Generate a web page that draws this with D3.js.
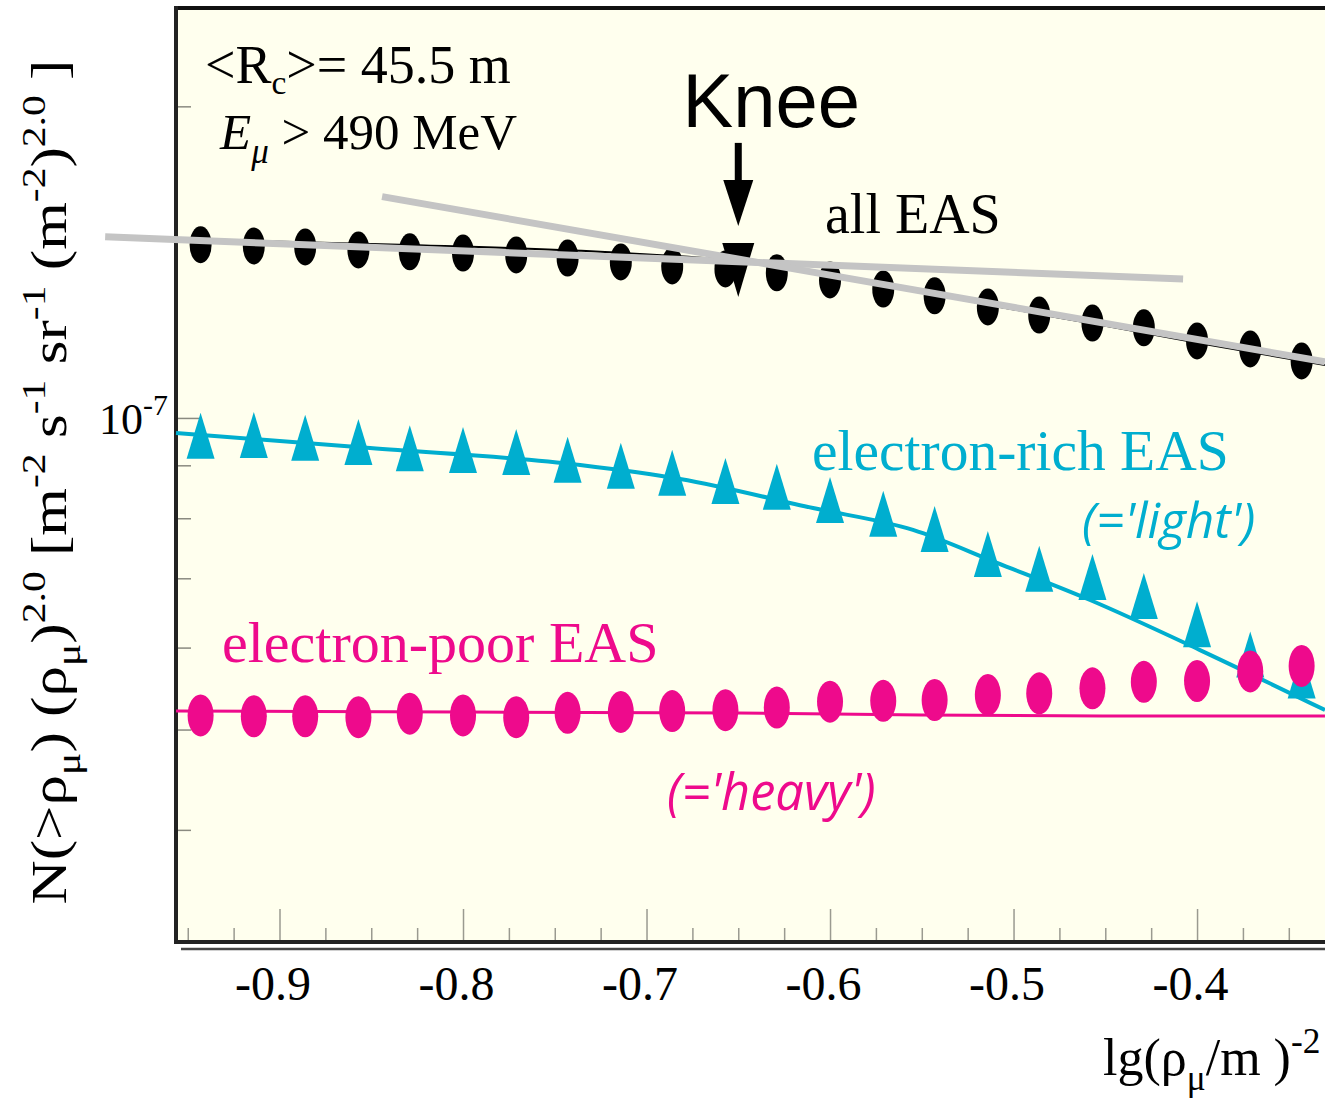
<!DOCTYPE html>
<html>
<head>
<meta charset="utf-8">
<script src="https://cdn.jsdelivr.net/npm/d3@7"></script>
<style>
  html, body { margin: 0; padding: 0; background: #ffffff; }
  svg { display: block; }
</style>
</head>
<body>
<svg id="chart" width="1325" height="1101"></svg>
<script>
// Muon density bins, lg(rho_mu / m^-2)
const lgRho = [-0.943, -0.914, -0.886, -0.857, -0.829, -0.800, -0.771, -0.743, -0.714, -0.686, -0.657,
               -0.629, -0.600, -0.571, -0.543, -0.514, -0.486, -0.457, -0.429, -0.400, -0.371, -0.343];

// N(>rho_mu) * rho_mu^2.0 for each shower class
const allEAS = [1.470e-7, 1.466e-7, 1.463e-7, 1.453e-7, 1.447e-7, 1.443e-7, 1.437e-7, 1.427e-7, 1.415e-7, 1.402e-7, 1.393e-7,
                1.381e-7, 1.359e-7, 1.332e-7, 1.312e-7, 1.280e-7, 1.257e-7, 1.235e-7, 1.222e-7, 1.187e-7, 1.166e-7, 1.135e-7];
const electronRich = [0.961e-7, 0.963e-7, 0.957e-7, 0.948e-7, 0.935e-7, 0.931e-7, 0.927e-7, 0.911e-7, 0.899e-7, 0.885e-7, 0.869e-7,
                      0.858e-7, 0.833e-7, 0.808e-7, 0.781e-7, 0.739e-7, 0.715e-7, 0.702e-7, 0.673e-7, 0.632e-7, 0.591e-7, 0.564e-7];
const electronPoor = [0.516e-7, 0.515e-7, 0.515e-7, 0.514e-7, 0.518e-7, 0.516e-7, 0.514e-7, 0.519e-7, 0.520e-7, 0.521e-7, 0.522e-7,
                      0.525e-7, 0.532e-7, 0.533e-7, 0.534e-7, 0.540e-7, 0.542e-7, 0.548e-7, 0.556e-7, 0.557e-7, 0.569e-7, 0.576e-7];

// Fitted spectra
const allFitX = [-0.9564, -0.8343, -0.7253, -0.6572, -0.6163, -0.5619, -0.5074, -0.4529, -0.3984, -0.3303];
const allFitY = [1.489e-7, 1.470e-7, 1.447e-7, 1.421e-7, 1.390e-7, 1.336e-7, 1.280e-7, 1.230e-7, 1.181e-7, 1.125e-7];
const lightFitX = [-0.9564, -0.8507, -0.7362, -0.6817, -0.6093, -0.5548, -0.5090, -0.4583, -0.3984, -0.3303];
const lightFitY = [0.9672e-7, 0.9354e-7, 0.9007e-7, 0.8730e-7, 0.8184e-7, 0.7795e-7, 0.7244e-7, 0.6670e-7, 0.5967e-7, 0.5222e-7];
const heavyFitX = [-0.9564, -0.80, -0.65, -0.55, -0.45, -0.3303];
const heavyFitY = [0.5210e-7, 0.5199e-7, 0.5187e-7, 0.5164e-7, 0.5153e-7, 0.5153e-7];

// Power-law slopes below and above the knee
const slopeBelowX = [-0.995, -0.4076];
const slopeBelowY = [1.496e-7, 1.362e-7];
const slopeAboveX = [-0.8441, -0.3303];
const slopeAboveY = [1.636e-7, 1.133e-7];

// Knee position
const kneeX = [-0.65];
const kneeY = [1.415e-7];

// Axis ticks
const xMajorTicks = [-0.9, -0.8, -0.7, -0.6, -0.5, -0.4];
const xTickLabels = ["-0.9", "-0.8", "-0.7", "-0.6", "-0.5", "-0.4"];
const xMinorTicks = [-0.95, -0.925, -0.875, -0.85, -0.825, -0.775, -0.75, -0.725, -0.675, -0.65, -0.625,
                     -0.575, -0.55, -0.525, -0.475, -0.45, -0.425, -0.375, -0.35, -0.325];
const yMajorTicks = [1e-7];
const yTickBase = ["10"];
const yTickExp = ["-7"];
const yMinorTicks = [2e-7, 9e-8, 8e-8, 7e-8, 6e-8, 5e-8, 4e-8];

// ---------------------------------------------------------------
const W = 1325, H = 1101;
const plot = { left: 176, top: 8, right: 1340, bottom: 942 };
const CYAN = "#00aecf", MAGENTA = "#ee0a8c", GREY = "#c4c4c4";
const SERIF = "'Liberation Serif', 'Times New Roman', Times, serif";
const SANS = "'Liberation Sans', Arial, Helvetica, sans-serif";

const svg = d3.select("#chart");

const x = d3.scaleLinear().domain([-0.9564, -0.3221]).range([plot.left, plot.right]);
const y = d3.scaleLog().domain([3.117e-8, 2.489e-7]).range([plot.bottom, plot.top]);

// writes text with sub/superscript runs into a <text> element
function richText(sel, segs, size, subDrop = 0.28, scriptScale = 0.68) {
  let shift = 0;
  segs.forEach(([t, kind]) => {
    const target = kind === "sup" ? -0.42 * size : kind === "sub" ? subDrop * size : 0;
    const ts = sel.append("tspan").attr("dy", target - shift).text(t);
    if (kind) ts.attr("font-size", size * scriptScale);
    shift = target;
  });
}

// plot background
svg.append("rect").attr("x", 0).attr("y", 0).attr("width", W).attr("height", H).attr("fill", "#ffffff");
svg.append("rect")
  .attr("x", plot.left).attr("y", plot.top)
  .attr("width", plot.right - plot.left).attr("height", plot.bottom - plot.top)
  .attr("fill", "#ffffee");

// bottom axis ticks
const gxMinor = svg.append("g").attr("transform", `translate(0,${plot.bottom})`)
  .call(d3.axisBottom(x).tickValues(xMinorTicks).tickSize(-14).tickFormat(""));
const gxMajor = svg.append("g").attr("transform", `translate(0,${plot.bottom})`)
  .call(d3.axisBottom(x).tickValues(xMajorTicks).tickSize(-33)
        .tickFormat((d, i) => xTickLabels[i]));
[gxMinor, gxMajor].forEach(g => {
  g.select(".domain").remove();
  g.selectAll(".tick line").attr("stroke", "#9a9a90").attr("stroke-width", 1.5);
});
gxMajor.selectAll(".tick text")
  .attr("y", 58).attr("dy", null).attr("dx", -7)
  .attr("font-family", SERIF).attr("font-size", 48).attr("fill", "#000");

// left axis ticks
const gyMinor = svg.append("g").attr("transform", `translate(${plot.left},0)`)
  .call(d3.axisLeft(y).tickValues(yMinorTicks).tickSize(-15).tickFormat(""));
const gyMajor = svg.append("g").attr("transform", `translate(${plot.left},0)`)
  .call(d3.axisLeft(y).tickValues(yMajorTicks).tickSize(-24).tickFormat(""));
[gyMinor, gyMajor].forEach(g => {
  g.select(".domain").remove();
  g.selectAll(".tick line").attr("stroke", "#8a8a80").attr("stroke-width", 1.5);
});
yMajorTicks.forEach((v, i) => {
  const t = svg.append("text")
    .attr("x", plot.left - 8).attr("y", y(v) + 16)
    .attr("text-anchor", "end")
    .attr("font-family", SERIF).attr("font-size", 44).attr("fill", "#000");
  richText(t, [[yTickBase[i], null], [yTickExp[i], "sup"]], 44);
});

// frame
const frame = svg.append("g").attr("fill", "none");
frame.append("line").attr("x1", plot.left - 2).attr("x2", W).attr("y1", plot.top).attr("y2", plot.top)
  .attr("stroke", "#111").attr("stroke-width", 4);
frame.append("line").attr("x1", plot.left).attr("x2", plot.left).attr("y1", plot.top - 2).attr("y2", plot.bottom + 2)
  .attr("stroke", "#222").attr("stroke-width", 4);
frame.append("line").attr("x1", plot.left - 2).attr("x2", W).attr("y1", plot.bottom).attr("y2", plot.bottom)
  .attr("stroke", "#222").attr("stroke-width", 4);
frame.append("line").attr("x1", plot.left + 5).attr("x2", W).attr("y1", plot.bottom + 7).attr("y2", plot.bottom + 7)
  .attr("stroke", "#444").attr("stroke-width", 2.5);

// fitted curves
const line = d3.line().x(d => x(d[0])).y(d => y(d[1])).curve(d3.curveMonotoneX);
const pairs = (xs, ys) => xs.map((v, i) => [v, ys[i]]);

svg.append("path").datum(pairs(heavyFitX, heavyFitY)).attr("d", line)
  .attr("fill", "none").attr("stroke", MAGENTA).attr("stroke-width", 3);
svg.append("path").datum(pairs(lightFitX, lightFitY)).attr("d", line)
  .attr("fill", "none").attr("stroke", CYAN).attr("stroke-width", 4);

// electron-rich (light) triangles
svg.append("g").selectAll("path").data(lgRho).join("path")
  .attr("transform", (d, i) => `translate(${x(d)},${y(electronRich[i])})`)
  .attr("d", "M0,-23L14,23L-14,23Z")
  .attr("fill", CYAN);

// electron-poor (heavy) dots
svg.append("g").selectAll("ellipse").data(lgRho).join("ellipse")
  .attr("cx", d => x(d)).attr("cy", (d, i) => y(electronPoor[i]))
  .attr("rx", 13).attr("ry", 21)
  .attr("fill", MAGENTA);

// all EAS dots
svg.append("g").selectAll("ellipse").data(lgRho).join("ellipse")
  .attr("cx", d => x(d)).attr("cy", (d, i) => y(allEAS[i]))
  .attr("rx", 11).attr("ry", 18.5)
  .attr("fill", "#000");

svg.append("path").datum(pairs(allFitX, allFitY)).attr("d", line)
  .attr("fill", "none").attr("stroke", "#000").attr("stroke-width", 2);

// knee marker
svg.append("g").selectAll("path").data(kneeX).join("path")
  .attr("transform", (d, i) => `translate(${x(d)},${y(kneeY[i])})`)
  .attr("d", "M-16,-19L16,-19L0,35Z")
  .attr("fill", "#000");

// power-law slopes
const straight = d3.line().x(d => x(d[0])).y(d => y(d[1]));
svg.append("path").datum(pairs(slopeBelowX, slopeBelowY)).attr("d", straight)
  .attr("fill", "none").attr("stroke", GREY).attr("stroke-width", 7);
svg.append("path").datum(pairs(slopeAboveX, slopeAboveY)).attr("d", straight)
  .attr("fill", "none").attr("stroke", GREY).attr("stroke-width", 7);

// knee arrow and label
const kx = x(kneeX[0]), ky = y(kneeY[0]);
svg.append("rect").attr("x", kx - 3.5).attr("y", ky - 119).attr("width", 7).attr("height", 40).attr("fill", "#000");
svg.append("path")
  .attr("d", `M${kx - 15},${ky - 82}L${kx + 15},${ky - 82}L${kx},${ky - 36}Z`)
  .attr("fill", "#000");
svg.append("text").attr("x", kx + 33).attr("y", ky - 135)
  .attr("text-anchor", "middle")
  .attr("font-family", SANS).attr("font-size", 76).attr("fill", "#000")
  .text("Knee");

// annotations
const t1 = svg.append("text").attr("x", 205).attr("y", 83)
  .attr("font-family", SERIF).attr("font-size", 54).attr("fill", "#000");
richText(t1, [["<R", null], ["c", "sub"], [">= 45.5 m", null]], 54, 0.2, 0.62);

const t2 = svg.append("text").attr("x", 220).attr("y", 149)
  .attr("font-family", SERIF).attr("font-size", 51).attr("fill", "#000");
t2.append("tspan").attr("font-style", "italic").text("E");
t2.append("tspan").attr("font-style", "italic").attr("font-size", 35).attr("dy", 14).text("μ");
t2.append("tspan").attr("dy", -14).text(" > 490 MeV");

svg.append("text").attr("x", 825).attr("y", 233)
  .attr("font-family", SERIF).attr("font-size", 56).attr("fill", "#000")
  .text("all EAS");

svg.append("text").attr("x", 812).attr("y", 470)
  .attr("font-family", SERIF).attr("font-size", 57.5).attr("fill", CYAN)
  .text("electron-rich EAS");
svg.append("text").attr("x", 1082).attr("y", 538)
  .attr("font-family", "'Open Sans', sans-serif").attr("font-style", "italic")
  .attr("font-size", 49.5).attr("fill", CYAN)
  .text("(='light')");

svg.append("text").attr("x", 222).attr("y", 662)
  .attr("font-family", SERIF).attr("font-size", 58).attr("fill", MAGENTA)
  .text("electron-poor EAS");
svg.append("text").attr("x", 667).attr("y", 810)
  .attr("font-family", "'Open Sans', sans-serif").attr("font-style", "italic")
  .attr("font-size", 50.5).attr("fill", MAGENTA)
  .text("(='heavy')");

// axis titles
const yt = svg.append("text")
  .attr("transform", "translate(66,482) rotate(-90)")
  .attr("text-anchor", "middle")
  .attr("textLength", 845).attr("lengthAdjust", "spacingAndGlyphs")
  .attr("font-family", SERIF).attr("font-size", 50).attr("fill", "#000");
richText(yt, [["N(>ρ", null], ["μ", "sub"], [") (ρ", null], ["μ", "sub"], [")", null], ["2.0", "sup"],
              [" [m", null], ["-2", "sup"], [" s", null], ["-1", "sup"], [" sr", null], ["-1", "sup"],
              [" (m", null], ["-2", "sup"], [")", null], ["2.0", "sup"], [" ]", null]], 50);

const xt = svg.append("text").attr("x", 1103).attr("y", 1075)
  .attr("font-family", SERIF).attr("font-size", 52).attr("fill", "#000");
richText(xt, [["lg(ρ", null], ["μ", "sub"], ["/m )", null], ["-2", "sup"]], 52);
</script>
</body>
</html>
